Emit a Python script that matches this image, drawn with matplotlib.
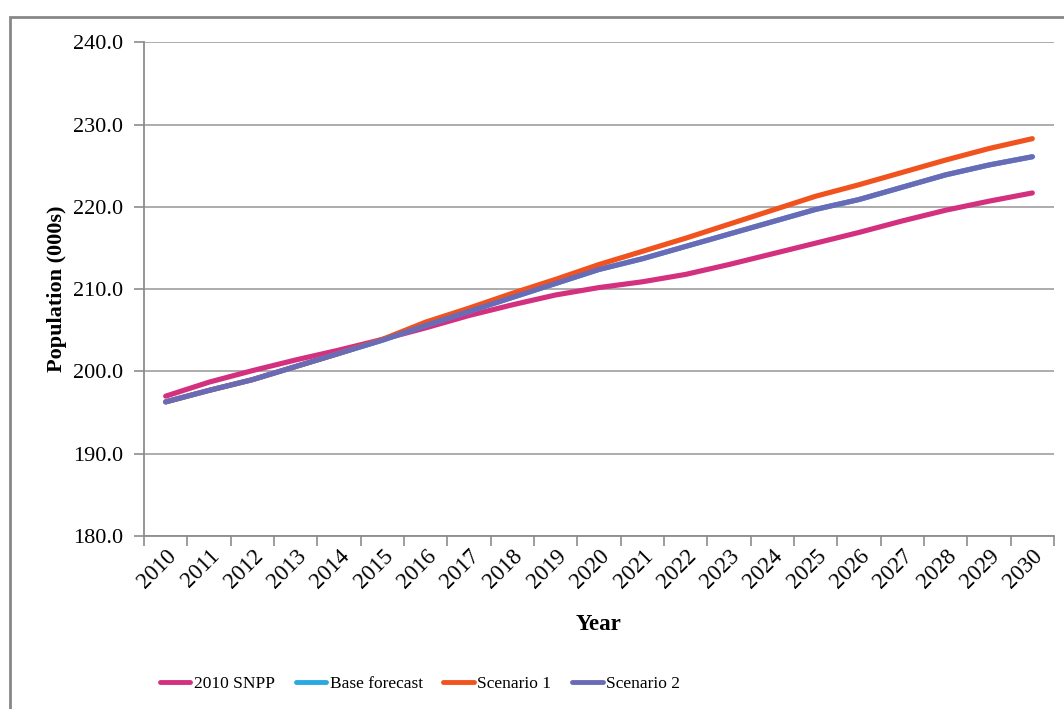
import matplotlib
matplotlib.use("Agg")
import matplotlib.pyplot as plt
from matplotlib.patches import Rectangle
from matplotlib.ticker import FixedLocator, NullFormatter

plt.rcParams['font.family'] = ['Liberation Serif', 'DejaVu Serif']

years = [str(y) for y in range(2010, 2031)]

snpp_2010 = [197.0, 198.7, 200.1, 201.4, 202.6, 203.9, 205.3, 206.8, 208.1, 209.3,
             210.2, 210.9, 211.8, 213.0, 214.3, 215.6, 216.9, 218.3, 219.6, 220.7, 221.7]
scenario_1 = [196.3, 197.7, 199.0, 200.6, 202.2, 203.9, 206.0, 207.7, 209.5, 211.2,
              213.0, 214.6, 216.2, 217.9, 219.6, 221.3, 222.7, 224.2, 225.7, 227.1, 228.3]
scenario_2 = [196.3, 197.7, 199.0, 200.6, 202.2, 203.8, 205.6, 207.3, 209.0, 210.7,
              212.4, 213.7, 215.2, 216.7, 218.2, 219.7, 220.9, 222.4, 223.9, 225.1, 226.1]
base_forecast = list(scenario_2)

series = [
    ("2010 SNPP", snpp_2010, "#D3307F"),
    ("Base forecast", base_forecast, "#2AA8E0"),
    ("Scenario 1", scenario_1, "#F1531F"),
    ("Scenario 2", scenario_2, "#6A6BB7"),
]

fig = plt.figure(figsize=(10.64, 7.09), dpi=100)
ax = fig.add_axes([144 / 1064, 1 - 536 / 709, 910 / 1064, (536 - 42.4) / 709])

x = list(range(len(years)))
for name, vals, col in series:
    ax.plot(x, vals, color=col, lw=3.7, label=name, solid_capstyle='round')

ax.set_xlim(-0.5, len(years) - 0.5)
ax.set_ylim(180, 240)
ax.set_yticks(range(180, 241, 10))
ax.set_yticklabels([f"{v:.1f}" for v in range(180, 241, 10)], fontsize=16)
ax.yaxis.grid(True, color="#A6A6A6", lw=1.3)
ax.set_axisbelow(True)

ax.set_xticks(x)
ax.set_xticklabels(years, rotation=45, ha='right', va='top', fontsize=16.5,
                   rotation_mode='anchor')
ax.tick_params(axis='x', which='major', length=0, pad=7)
ax.xaxis.set_minor_locator(FixedLocator([i - 0.5 for i in range(len(years) + 1)]))
ax.xaxis.set_minor_formatter(NullFormatter())
ax.tick_params(axis='x', which='minor', length=7, width=1.2, color="#8C8C8C",
               direction='out')
ax.tick_params(axis='y', length=7, width=1.2, color="#8C8C8C", pad=8)

for side in ("top", "right"):
    ax.spines[side].set_visible(False)
for side in ("left", "bottom"):
    ax.spines[side].set_color("#8C8C8C")
    ax.spines[side].set_linewidth(1.3)

ax.set_xlabel("Year", fontsize=16.5, fontweight='bold', labelpad=15)
ax.set_ylabel("Population (000s)", fontsize=16, fontweight='bold', labelpad=4)

leg = fig.legend(loc='center', bbox_to_anchor=(420 / 1064, 1 - 684 / 709), ncol=4,
                 frameon=False, fontsize=12.5, handlelength=1.75, handletextpad=0.2,
                 columnspacing=1.2)
for line in leg.get_lines():
    line.set_linewidth(3.5)

fig.patches.append(Rectangle((10 / 1064, -0.1), 1.2, 1 - 16.5 / 709 + 0.1,
                             transform=fig.transFigure, fill=False,
                             edgecolor="#878787", lw=2))

fig.savefig("out.png", dpi=100)
